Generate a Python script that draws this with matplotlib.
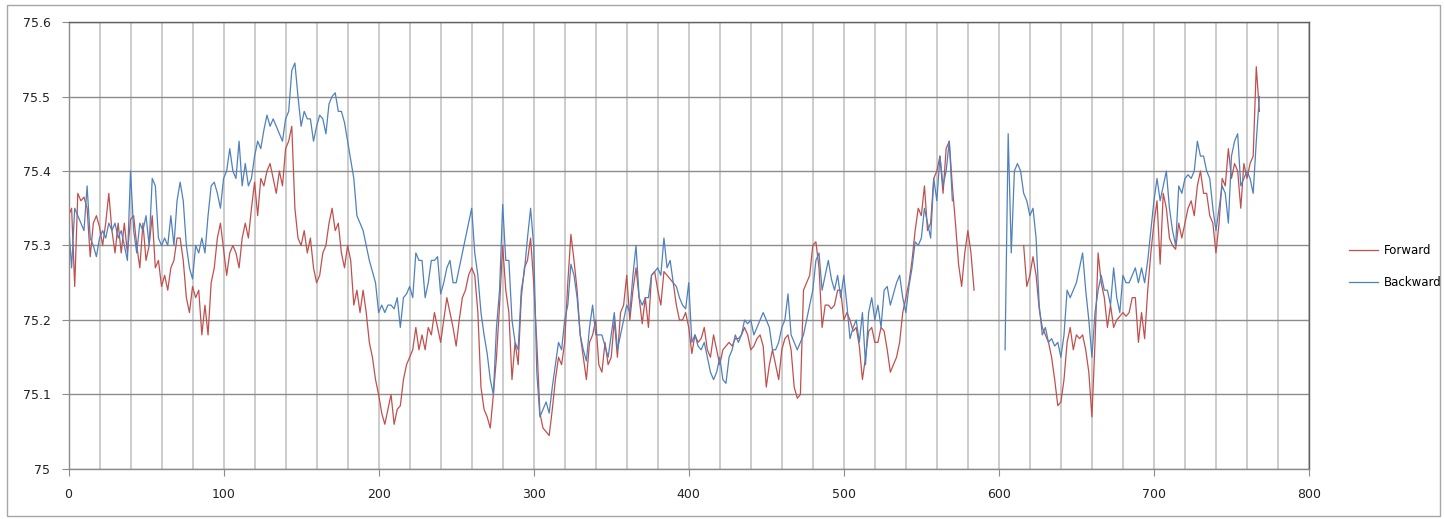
import numpy as np
import matplotlib
matplotlib.use("Agg")
import matplotlib.pyplot as plt
from matplotlib.ticker import MultipleLocator, FuncFormatter
from matplotlib.patches import Rectangle

nan = np.nan

# sample index (every 2 steps, 0..768)
x = np.arange(0, 770, 2)

forward = [
    75.34, 75.35, 75.245, 75.37, 75.36, 75.365, 75.35, 75.285, 75.33, 75.34,    # 0-18
    75.325, 75.30, 75.33, 75.37, 75.32, 75.29, 75.33, 75.29, 75.33, 75.29,      # 20-38
    75.335, 75.34, 75.30, 75.27, 75.33, 75.28, 75.30, 75.34, 75.27, 75.28,      # 40-58
    75.245, 75.26, 75.24, 75.27, 75.28, 75.31, 75.31, 75.28, 75.23, 75.21,      # 60-78
    75.245, 75.23, 75.24, 75.18, 75.22, 75.18, 75.25, 75.27, 75.31, 75.33,      # 80-98
    75.295, 75.26, 75.29, 75.30, 75.29, 75.27, 75.31, 75.33, 75.31, 75.35,      # 100-118
    75.385, 75.34, 75.39, 75.38, 75.40, 75.41, 75.39, 75.37, 75.40, 75.38,      # 120-138
    75.43, 75.44, 75.46, 75.35, 75.31, 75.30, 75.32, 75.29, 75.31, 75.27,       # 140-158
    75.25, 75.26, 75.29, 75.30, 75.33, 75.35, 75.32, 75.33, 75.29, 75.27,       # 160-178
    75.30, 75.28, 75.22, 75.24, 75.21, 75.24, 75.21, 75.17, 75.15, 75.12,       # 180-198
    75.10, 75.075, 75.06, 75.08, 75.10, 75.06, 75.08, 75.085, 75.12, 75.14,     # 200-218
    75.15, 75.16, 75.19, 75.16, 75.18, 75.16, 75.19, 75.18, 75.21, 75.19,       # 220-238
    75.17, 75.20, 75.23, 75.21, 75.19, 75.165, 75.20, 75.23, 75.24, 75.26,      # 240-258
    75.27, 75.26, 75.21, 75.11, 75.08, 75.07, 75.055, 75.10, 75.15, 75.22,      # 260-278
    75.30, 75.24, 75.21, 75.12, 75.17, 75.14, 75.23, 75.27, 75.28, 75.31,       # 280-298
    75.25, 75.17, 75.075, 75.055, 75.05, 75.045, 75.08, 75.12, 75.15, 75.14,    # 300-318
    75.17, 75.25, 75.315, 75.28, 75.24, 75.18, 75.15, 75.12, 75.17, 75.18,      # 320-338
    75.20, 75.14, 75.13, 75.17, 75.14, 75.15, 75.20, 75.15, 75.21, 75.22,       # 340-358
    75.26, 75.20, 75.24, 75.27, 75.23, 75.195, 75.23, 75.19, 75.26, 75.265,     # 360-378
    75.24, 75.22, 75.265, 75.26, 75.255, 75.25, 75.22, 75.20, 75.20, 75.21,     # 380-398
    75.19, 75.155, 75.18, 75.17, 75.175, 75.19, 75.16, 75.15, 75.18, 75.16,     # 400-418
    75.14, 75.16, 75.165, 75.17, 75.165, 75.175, 75.175, 75.18, 75.19, 75.18,   # 420-438
    75.16, 75.165, 75.175, 75.18, 75.165, 75.11, 75.14, 75.16, 75.14, 75.12,    # 440-458
    75.16, 75.175, 75.18, 75.16, 75.11, 75.095, 75.10, 75.24, 75.25, 75.26,     # 460-478
    75.30, 75.305, 75.27, 75.19, 75.22, 75.22, 75.215, 75.22, 75.24, 75.24,     # 480-498
    75.20, 75.21, 75.20, 75.185, 75.19, 75.165, 75.12, 75.15, 75.185, 75.19,    # 500-518
    75.17, 75.17, 75.19, 75.185, 75.16, 75.13, 75.14, 75.15, 75.17, 75.21,      # 520-538
    75.23, 75.25, 75.28, 75.32, 75.35, 75.34, 75.38, 75.32, 75.33, 75.39,       # 540-558
    75.40, 75.42, 75.37, 75.43, 75.44, 75.38, 75.33, 75.275, 75.245, 75.29,     # 560-578
    75.32, 75.29, 75.24, nan, nan, nan, nan, nan, nan, nan,                     # 580-598
    nan, nan, nan, nan, nan, nan, nan, nan, 75.30, 75.245,                      # 600-618
    75.26, 75.285, 75.26, 75.215, 75.19, 75.18, 75.17, 75.15, 75.12, 75.085,    # 620-638
    75.09, 75.12, 75.17, 75.19, 75.16, 75.18, 75.175, 75.18, 75.16, 75.13,      # 640-658
    75.07, 75.17, 75.29, 75.25, 75.23, 75.19, 75.22, 75.19, 75.20, 75.205,      # 660-678
    75.21, 75.205, 75.21, 75.23, 75.23, 75.17, 75.21, 75.175, 75.24, 75.29,     # 680-698
    75.33, 75.36, 75.275, 75.37, 75.35, 75.31, 75.30, 75.295, 75.33, 75.31,     # 700-718
    75.33, 75.35, 75.36, 75.34, 75.38, 75.40, 75.37, 75.37, 75.34, 75.33,       # 720-738
    75.29, 75.33, 75.39, 75.38, 75.43, 75.39, 75.41, 75.40, 75.35, 75.41,       # 740-758
    75.39, 75.41, 75.42, 75.54, 75.48,                                          # 760-768
]

backward = [
    75.33, 75.27, 75.35, 75.34, 75.33, 75.32, 75.38, 75.31, 75.30, 75.285,     # 0-18
    75.31, 75.32, 75.31, 75.33, 75.32, 75.33, 75.31, 75.32, 75.30, 75.28,       # 20-38
    75.40, 75.32, 75.29, 75.33, 75.32, 75.34, 75.30, 75.39, 75.38, 75.31,       # 40-58
    75.30, 75.31, 75.30, 75.34, 75.30, 75.36, 75.385, 75.36, 75.30, 75.27,      # 60-78
    75.255, 75.30, 75.29, 75.31, 75.29, 75.34, 75.38, 75.385, 75.37, 75.35,     # 80-98
    75.39, 75.40, 75.43, 75.40, 75.39, 75.44, 75.38, 75.41, 75.38, 75.39,       # 100-118
    75.42, 75.44, 75.43, 75.455, 75.475, 75.46, 75.47, 75.46, 75.45, 75.44,     # 120-138
    75.47, 75.48, 75.535, 75.545, 75.50, 75.46, 75.48, 75.47, 75.47, 75.44,     # 140-158
    75.46, 75.475, 75.47, 75.45, 75.49, 75.50, 75.505, 75.48, 75.48, 75.465,    # 160-178
    75.44, 75.415, 75.39, 75.34, 75.33, 75.32, 75.30, 75.28, 75.265, 75.25,    # 180-198
    75.21, 75.22, 75.21, 75.22, 75.22, 75.215, 75.23, 75.19, 75.23, 75.235,    # 200-218
    75.245, 75.23, 75.29, 75.28, 75.28, 75.23, 75.25, 75.28, 75.28, 75.285,    # 220-238
    75.235, 75.25, 75.27, 75.28, 75.25, 75.25, 75.27, 75.29, 75.31, 75.33,     # 240-258
    75.35, 75.29, 75.26, 75.21, 75.18, 75.155, 75.12, 75.10, 75.19, 75.24,     # 260-278
    75.355, 75.28, 75.28, 75.20, 75.17, 75.16, 75.24, 75.265, 75.31, 75.35,    # 280-298
    75.30, 75.13, 75.07, 75.08, 75.09, 75.075, 75.11, 75.14, 75.17, 75.16,     # 300-318
    75.20, 75.22, 75.275, 75.26, 75.23, 75.18, 75.16, 75.145, 75.19, 75.22,    # 320-338
    75.18, 75.18, 75.18, 75.165, 75.15, 75.18, 75.21, 75.16, 75.18, 75.20,     # 340-358
    75.22, 75.21, 75.26, 75.30, 75.23, 75.22, 75.23, 75.23, 75.26, 75.265,     # 360-378
    75.27, 75.26, 75.31, 75.27, 75.28, 75.25, 75.245, 75.23, 75.22, 75.215,    # 380-398
    75.25, 75.17, 75.18, 75.165, 75.16, 75.17, 75.15, 75.13, 75.12, 75.13,     # 400-418
    75.15, 75.12, 75.115, 75.15, 75.16, 75.18, 75.17, 75.18, 75.20, 75.195,    # 420-438
    75.20, 75.18, 75.19, 75.20, 75.21, 75.20, 75.19, 75.16, 75.16, 75.17,      # 440-458
    75.19, 75.20, 75.235, 75.18, 75.17, 75.16, 75.17, 75.18, 75.20, 75.22,     # 460-478
    75.24, 75.28, 75.29, 75.24, 75.26, 75.28, 75.255, 75.24, 75.26, 75.23,     # 480-498
    75.26, 75.22, 75.175, 75.19, 75.20, 75.17, 75.21, 75.14, 75.21, 75.23,     # 500-518
    75.20, 75.22, 75.19, 75.24, 75.245, 75.22, 75.235, 75.25, 75.26, 75.23,    # 520-538
    75.21, 75.245, 75.27, 75.305, 75.30, 75.31, 75.35, 75.33, 75.31, 75.39,    # 540-558
    75.36, 75.42, 75.38, 75.40, 75.44, 75.36, nan, nan, nan, nan,              # 560-578
    nan, nan, nan, nan, nan, nan, nan, nan, nan, nan,                          # 580-598
    nan, nan, 75.16, 75.45, 75.29, 75.40, 75.41, 75.40, 75.37, 75.36,          # 600-618
    75.34, 75.35, 75.31, 75.22, 75.18, 75.19, 75.17, 75.175, 75.165, 75.17,    # 620-638
    75.15, 75.18, 75.24, 75.23, 75.24, 75.25, 75.27, 75.29, 75.24, 75.20,      # 640-658
    75.15, 75.21, 75.24, 75.26, 75.24, 75.24, 75.22, 75.27, 75.23, 75.21,      # 660-678
    75.26, 75.25, 75.25, 75.26, 75.27, 75.25, 75.27, 75.25, 75.28, 75.32,      # 680-698
    75.36, 75.39, 75.36, 75.38, 75.40, 75.35, 75.32, 75.30, 75.38, 75.37,      # 700-718
    75.39, 75.395, 75.39, 75.40, 75.44, 75.42, 75.42, 75.40, 75.39, 75.35,     # 720-738
    75.32, 75.35, 75.38, 75.37, 75.33, 75.42, 75.44, 75.45, 75.38, 75.39,      # 740-758
    75.40, 75.39, 75.37, 75.44, 75.50,                                         # 760-768
]

forward = np.array(forward, dtype=float)
backward = np.array(backward, dtype=float)

fig = plt.figure(figsize=(14.45, 5.19), dpi=100)
ax = fig.add_axes([68.5 / 1445, 50 / 519, (1309 - 68.5) / 1445, (469 - 22) / 519])

# outer chart border (Excel style)
fig.patches.append(Rectangle((7 / 1445, 3 / 519), 1433 / 1445, 511 / 519,
                             transform=fig.transFigure, fill=False,
                             edgecolor='#a6a6a6', linewidth=1.0))

ax.plot(x, forward, color='#C0504D', linewidth=0.9, label='Forward')
ax.plot(x, backward, color='#4F81BD', linewidth=0.9, label='Backward')

ax.set_xlim(0, 800)
ax.set_ylim(75.0, 75.6)
ax.xaxis.set_major_locator(MultipleLocator(100))
ax.xaxis.set_minor_locator(MultipleLocator(20))
ax.yaxis.set_major_locator(MultipleLocator(0.1))
ax.yaxis.set_major_formatter(FuncFormatter(lambda v, p: '%g' % round(v, 1)))

ax.grid(True, axis='x', which='both', color='#c4c4c4', linewidth=1.2)
ax.grid(True, axis='y', which='major', color='#8c8c8c', linewidth=1.0)
ax.set_axisbelow(True)

ax.tick_params(axis='x', which='major', direction='out', length=5, pad=9,
               labelsize=9, color='#8c8c8c', labelcolor='#222222')
ax.tick_params(axis='x', which='minor', length=0)
ax.tick_params(axis='y', direction='out', length=5, pad=8,
               labelsize=9, color='#8c8c8c', labelcolor='#222222')

for side in ['left', 'bottom']:
    ax.spines[side].set_color('#8c8c8c')
for side in ['top', 'right']:
    ax.spines[side].set_color('#606060')
for s in ax.spines.values():
    s.set_linewidth(1.0)

fig.legend(loc='upper left', bbox_to_anchor=(1343 / 1445, 1 - 238 / 519),
           frameon=False, fontsize=8.5, handlelength=2.5, handletextpad=0.45,
           labelspacing=1.6, borderpad=0)

plt.savefig('out.png', dpi=100)
